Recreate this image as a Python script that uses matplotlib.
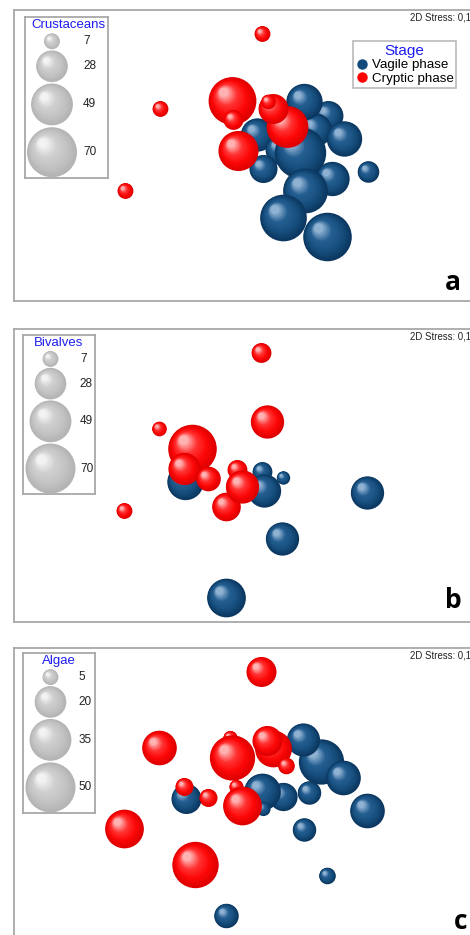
import numpy as np
import matplotlib
matplotlib.use("Agg")
import matplotlib.pyplot as plt
from matplotlib.colors import LinearSegmentedColormap
from matplotlib.lines import Line2D

plt.rcParams['font.family'] = ['Liberation Sans', 'DejaVu Sans']

# ---- data (MDS coordinates, abundance) ----
# panel a - crustaceans
a_vag_x = [3.15, 3.02, 3.31, 2.91, 2.44, 2.67, 2.50, 3.19, 2.87, 2.92, 2.70, 3.14, 3.55]
a_vag_y = [1.85, 1.71, 1.62, 1.99, 1.66, 1.51, 1.32, 1.22, 1.48, 1.10, 0.83, 0.64, 1.29]
a_vag_n = [25, 31, 35, 37, 31, 25, 22, 33, 74, 56, 61, 66, 13]
a_cry_x = [2.49, 1.47, 1.12, 2.19, 2.20, 2.25, 2.74, 2.60, 2.55]
a_cry_y = [2.67, 1.92, 1.10, 2.00, 1.81, 1.50, 1.74, 1.92, 1.99]
a_cry_n = [7, 7, 7, 64, 11, 45, 49, 25, 6]

# panel b - bivalves
b_vag_x = [1.72, 2.49, 2.51, 2.70, 3.54, 2.69, 2.13]
b_vag_y = [1.40, 1.50, 1.31, 1.44, 1.29, 0.83, 0.24]
b_vag_n = [37, 11, 31, 5, 31, 31, 42]
b_cry_x = [2.48, 2.54, 1.46, 1.79, 1.71, 1.95, 2.24, 2.13, 2.29, 1.11]
b_cry_y = [2.69, 2.00, 1.93, 1.73, 1.53, 1.43, 1.52, 1.15, 1.35, 1.11]
b_cry_n = [11, 31, 6, 66, 29, 17, 11, 23, 31, 7]

# panel c - algae
c_vag_x = [3.08, 2.90, 3.30, 3.54, 1.73, 2.70, 2.49, 2.50, 2.96, 2.91, 3.14, 2.13]
c_vag_y = [1.77, 1.99, 1.61, 1.28, 1.40, 1.42, 1.47, 1.30, 1.46, 1.09, 0.63, 0.23]
c_vag_n = [41, 22, 24, 24, 18, 16, 27, 4, 11, 11, 5.5, 12]
c_cry_x = [2.48, 1.46, 2.17, 2.19, 2.60, 2.54, 2.73, 1.71, 1.95, 2.23, 2.29, 1.11, 1.82]
c_cry_y = [2.67, 1.91, 2.01, 1.81, 1.90, 1.98, 1.73, 1.52, 1.41, 1.52, 1.33, 1.10, 0.74]
c_cry_n = [18, 24, 4, 41, 27, 18, 5.5, 6.5, 6.5, 4, 30, 30, 43]

size_titles = ['Crustaceans', 'Bivalves', 'Algae']
size_keys = [[7, 28, 49, 70], [7, 28, 49, 70], [5, 20, 35, 50]]
panel_letters = ['a', 'b', 'c']
stress_text = '2D Stress: 0,18'

# ---- style ----
W, H = 470, 935
S_MAX = 1296  # marker area (pt^2) of the largest key bubble
blue_cm = LinearSegmentedColormap.from_list('b', ['#0b3760', '#17507f', '#255f92', '#8fb1d2'])
red_cm = LinearSegmentedColormap.from_list('r', ['#de0000', '#fd0808', '#ff3434', '#ffb2b2'])
grey_cm = LinearSegmentedColormap.from_list('g', ['#b4b4b4', '#c4c4c4', '#d0d0d0', '#f2f2f2'])
title_blue = '#1d1df2'
frame_grey = '#a8a8a8'

fig = plt.figure(figsize=(W / 100, H / 100), dpi=100)


def px_axes(left, top, width, height):
    return fig.add_axes([left / W, 1 - (top + height) / H, width / W, height / H])


def balls(ax, xs, ys, sizes, cmap, z0, layers=16):
    bb = ax.get_window_extent()
    x0, x1 = ax.get_xlim()
    y0, y1 = ax.get_ylim()
    ppx = bb.width / (x1 - x0)
    ppy = bb.height / (y1 - y0)
    for i, (x, y, s) in enumerate(zip(xs, ys, sizes)):
        r_pt = np.sqrt(s) / 2
        t = np.linspace(0, 0.9, layers)
        f = 1 - 0.9 * t
        shift = 0.4 * r_pt * t * fig.dpi / 72
        ax.scatter(x - shift / ppx, y + shift / ppy, s=s * f ** 2,
                   c=cmap(t / 0.9), linewidths=0, zorder=z0 + i)


def frame(ax):
    ax.set_xticks([])
    ax.set_yticks([])
    for sp in ax.spines.values():
        sp.set_color(frame_grey)
        sp.set_linewidth(1.3)


panels = [
    (10, 291, a_vag_x, a_vag_y, a_vag_n, a_cry_x, a_cry_y, a_cry_n, (25, 17, 83, 161), 0.70),
    (329, 293, b_vag_x, b_vag_y, b_vag_n, b_cry_x, b_cry_y, b_cry_n, (23, 335, 72, 159), 0.79),
    (648, 291, c_vag_x, c_vag_y, c_vag_n, c_cry_x, c_cry_y, c_cry_n, (22.7, 653, 72, 160), 0.78),
]
letter_pos = [(0.935, 0.065), (0.935, 0.075), (0.952, 0.059)]

for k, (top, h, vx, vy, vn, cx, cy, cn, lbox, lab_x) in enumerate(panels):
    ax = px_axes(13.5, top, 470, h)
    ax.set_xlim(0, 4.70)
    ax.set_ylim(0, h / 100)
    frame(ax)
    vmax = max(size_keys[k])
    balls(ax, vx, vy, [S_MAX * n / vmax for n in vn], blue_cm, 10)
    balls(ax, cx, cy, [S_MAX * n / vmax for n in cn], red_cm, 100)
    ax.text(0.843, 1 - 7.5 / h, stress_text, transform=ax.transAxes,
            fontsize=6.9, va='center', ha='left', color='#222222')
    ax.text(*letter_pos[k], panel_letters[k], transform=ax.transAxes,
            fontsize=19, fontweight='bold', family=['Open Sans', 'DejaVu Sans'],
            ha='center', va='center')

    # bubble size key
    lx = px_axes(*lbox)
    lx.set_xlim(0, 1)
    lx.set_ylim(0, 1)
    frame(lx)
    lx.set_zorder(300)
    key_y = [0.849, 0.694, 0.457, 0.16]
    bx = (52 - lbox[0]) / lbox[2] if k == 0 else (50.5 - lbox[0]) / lbox[2]
    balls(lx, [bx] * 4, key_y, [S_MAX * v / vmax for v in size_keys[k]], grey_cm, 5)
    for v, yy in zip(size_keys[k], key_y):
        lx.text(lab_x, yy, str(v), fontsize=8.5, va='center', ha='left', color='#222222')
    lx.text(0.52 if k == 0 else 0.5, 0.952, size_titles[k], fontsize=9.5,
            color=title_blue, ha='center', va='center')

    if k == 0:
        handles = [Line2D([], [], ls='none', marker='o', ms=6.5, color='#134a7c'),
                   Line2D([], [], ls='none', marker='o', ms=6.5, color='#ff0000')]
        leg = ax.legend(handles, ['Vagile phase', 'Cryptic phase'], title='Stage',
                        loc='upper left', bbox_to_anchor=((353 - 13.5) / 470, 1 - 31 / h),
                        borderaxespad=0, fontsize=9.6, title_fontsize=11,
                        frameon=True, fancybox=False, edgecolor=frame_grey,
                        handletextpad=0.2, handlelength=1.0, borderpad=0.2,
                        labelspacing=0.1)
        leg.get_title().set_color(title_blue)
        leg.get_frame().set_linewidth(1.2)
        leg.set_zorder(400)

fig.savefig('out.png', dpi=100)
